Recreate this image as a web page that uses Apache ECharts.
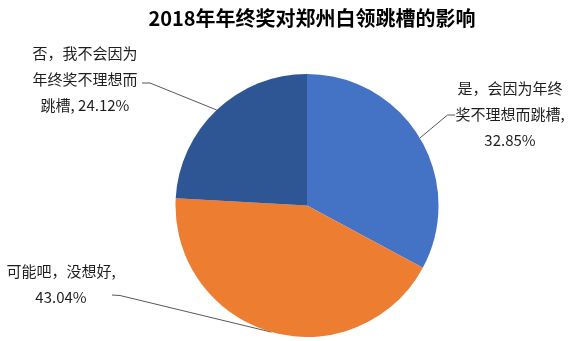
<!DOCTYPE html>
<html>
<head>
<meta charset="utf-8">
<script src="https://cdn.jsdelivr.net/npm/echarts@6/dist/echarts.min.js"></script>
<style>
html,body{margin:0;padding:0;background:#fff;}
#chart{width:576px;height:341px;}
</style>
</head>
<body>
<div id="chart"></div>
<script>
// ---- data ----
const titleText = '2018年年终奖对郑州白领跳槽的影响';
const categories = ['是，会因为年终奖不理想而跳槽', '可能吧，没想好', '否，我不会因为年终奖不理想而跳槽'];
const values = [32.85, 43.04, 24.12];
const wrappedNames = ['是，会因为年终\n奖不理想而跳槽', '可能吧，没想好', '否，我不会因为\n年终奖不理想而\n跳槽'];
const nameValueSep = [',\n', ',\n', ', '];
const colors = ['#4472C4', '#ED7D31', '#2E5594'];

// ---- label placement (layout, not data) ----
const labelPlacement = [
  { x: 510, y: 114, bend: [447.5, 115], end: [455, 115] },
  { x: 61, y: 284.5, bend: [120, 295.5], end: [112, 295] },
  { x: 85, y: 79, bend: [150, 83], end: [142, 83] }
];

const chart = echarts.init(document.getElementById('chart'), null, { renderer: 'canvas' });
const font = '"Noto Sans CJK SC", "Microsoft YaHei", sans-serif';

chart.setOption({
  backgroundColor: '#ffffff',
  animation: false,
  title: {
    text: titleText,
    left: 312,
    top: 8,
    textAlign: 'center',
    padding: 0,
    textStyle: { fontSize: 20, fontWeight: 'bold', color: '#000000', fontFamily: font }
  },
  series: [{
    type: 'pie',
    center: [307, 205.5],
    radius: 131.5,
    startAngle: 90,
    clockwise: true,
    avoidLabelOverlap: false,
    data: categories.map((c, i) => ({ name: c, value: values[i], itemStyle: { color: colors[i] } })),
    itemStyle: { borderWidth: 0 },
    label: {
      show: true,
      position: 'outside',
      color: '#1e1e1e',
      fontSize: 15,
      lineHeight: 26,
      fontFamily: font,
      align: 'center',
      formatter: p => wrappedNames[p.dataIndex] + nameValueSep[p.dataIndex] + values[p.dataIndex].toFixed(2) + '%'
    },
    labelLine: {
      show: true,
      smooth: false,
      lineStyle: { color: '#595959', width: 1 }
    },
    labelLayout: function (params) {
      const lp = labelPlacement[params.dataIndex];
      const res = { x: lp.x, y: lp.y, align: 'center', verticalAlign: 'middle' };
      if (params.labelLinePoints && params.labelLinePoints.length) {
        res.labelLinePoints = [params.labelLinePoints[0], lp.bend, lp.end];
      }
      return res;
    }
  }]
});
</script>
</body>
</html>
